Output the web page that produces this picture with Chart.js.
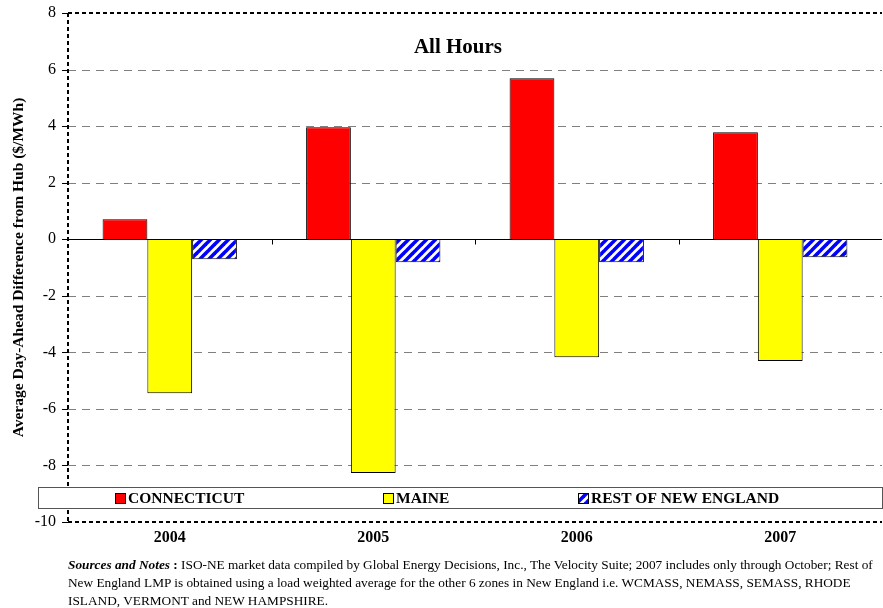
<!DOCTYPE html>
<html><head><meta charset="utf-8">
<script src="https://cdn.jsdelivr.net/npm/chart.js@4"></script>
<style>
html,body{margin:0;padding:0;background:#fff;}
#wrap{position:relative;width:883px;height:608px;}
#note{position:absolute;left:68px;top:556px;width:815px;font-family:"Liberation Serif","Times New Roman",serif;font-size:13.3px;line-height:18px;color:#000;white-space:nowrap;}
</style></head>
<body><div id="wrap"><canvas id="c" width="883" height="608"></canvas>
<div id="note"><b><i>Sources and Notes</i> :</b> ISO-NE market data compiled by Global Energy Decisions, Inc., The Velocity Suite; 2007 includes only through October; Rest of<br>New England LMP is obtained using a load weighted average for the other 6 zones in New England i.e. WCMASS, NEMASS, SEMASS, RHODE<br>ISLAND, VERMONT and NEW HAMPSHIRE.</div></div>
<script>
const categories = ["2004", "2005", "2006", "2007"];
const connecticut = [0.71, 3.96, 5.69, 3.78];
const maine = [-5.45, -8.27, -4.17, -4.31];
const restOfNE = [-0.71, -0.81, -0.81, -0.64];
const seriesNames = ["CONNECTICUT", "MAINE", "REST OF NEW ENGLAND"];
const yTicks = [-10, -8, -6, -4, -2, 0, 2, 4, 6, 8];
const chartTitle = "All Hours";
const yTitle = "Average Day-Ahead Difference from Hub ($/MWh)";

function makePattern(){
  const p = document.createElement('canvas');
  p.width = 9; p.height = 9;
  const g = p.getContext('2d');
  g.fillStyle = '#fff'; g.fillRect(0,0,9,9);
  g.strokeStyle = '#0000ff'; g.lineWidth = 3.6;
  for (let k=-2;k<=2;k++){
    g.beginPath(); g.moveTo(k*9-2, 11); g.lineTo(k*9+11, -2); g.stroke();
  }
  return document.getElementById('c').getContext('2d').createPattern(p,'repeat');
}
const pattern = makePattern();
const colors = ['#ff0000', '#ffff00', pattern];
const serif = '"Liberation Serif","Times New Roman",serif';

const decor = {
  id:'decor',
  beforeDatasetsDraw(chart){
    const ctx = chart.ctx, a = chart.chartArea, y = chart.scales.y;
    ctx.save();
    yTicks.forEach(v=>{
      const py = Math.round(y.getPixelForValue(v))+0.5;
      if (v===0 || v===8 || v===-10) return;
      ctx.strokeStyle='#808080'; ctx.lineWidth=1; ctx.setLineDash([8,6]);
      ctx.beginPath(); ctx.moveTo(a.left, py); ctx.lineTo(a.right, py); ctx.stroke();
    });
    ctx.restore();
  },
  afterDatasetsDraw(chart){
    const ctx = chart.ctx, a = chart.chartArea, y = chart.scales.y;
    ctx.save();
    const z = Math.round(y.getPixelForValue(0))+0.5;
    ctx.strokeStyle='#000'; ctx.lineWidth=1; ctx.setLineDash([]);
    ctx.beginPath(); ctx.moveTo(a.left, z); ctx.lineTo(a.right, z); ctx.stroke();
    const n = categories.length, w = (a.right-a.left)/n;
    for (let i=1;i<n;i++){
      const px = Math.round(a.left + i*w)+0.5;
      ctx.beginPath(); ctx.moveTo(px, z); ctx.lineTo(px, z+5); ctx.stroke();
    }
    ctx.lineWidth=2; ctx.setLineDash([4,3]);
    const t = Math.round(y.getPixelForValue(8)), b = Math.round(y.getPixelForValue(-10));
    ctx.beginPath(); ctx.moveTo(a.left, t); ctx.lineTo(a.right, t); ctx.stroke();
    ctx.beginPath(); ctx.moveTo(a.left, b); ctx.lineTo(a.right, b); ctx.stroke();
    ctx.beginPath(); ctx.moveTo(a.left, t); ctx.lineTo(a.left, b); ctx.stroke();
    ctx.setLineDash([]); ctx.lineWidth=1;
    yTicks.forEach(v=>{
      const py = Math.round(y.getPixelForValue(v))+0.5;
      ctx.beginPath(); ctx.moveTo(a.left-6, py); ctx.lineTo(a.left, py); ctx.stroke();
    });
    ctx.fillStyle='#000'; ctx.font='bold 21px '+serif; ctx.textAlign='center'; ctx.textBaseline='middle';
    ctx.fillText(chartTitle, 458, 48);
    ctx.fillStyle='#fff'; ctx.fillRect(38.5, 487.5, 844, 21);
    ctx.strokeStyle='#555'; ctx.lineWidth=1; ctx.strokeRect(38.5, 487.5, 844, 21);
    const lx = [115, 383, 578];
    ctx.font='bold 15.5px '+serif; ctx.textAlign='left';
    seriesNames.forEach((s,i)=>{
      ctx.fillStyle = colors[i];
      ctx.fillRect(lx[i]+0.5, 493.5, 10, 10);
      ctx.strokeStyle='#000'; ctx.strokeRect(lx[i]+0.5, 493.5, 10, 10);
      ctx.fillStyle='#000';
      ctx.fillText(s, lx[i]+13, 499);
    });
    ctx.restore();
  }
};

new Chart(document.getElementById('c'), {
  type:'bar',
  data:{
    labels:categories,
    datasets:[
      {label:seriesNames[0], data:connecticut, backgroundColor:colors[0], borderColor:'#000', borderWidth:1},
      {label:seriesNames[1], data:maine, backgroundColor:colors[1], borderColor:'#000', borderWidth:1},
      {label:seriesNames[2], data:restOfNE, backgroundColor:colors[2], borderColor:'#000', borderWidth:1}
    ]
  },
  options:{
    responsive:false, animation:false, devicePixelRatio:1,
    layout:{padding:{top:13, right:1, bottom:56, left:0}},
    plugins:{legend:{display:false}, title:{display:false}, tooltip:{enabled:false}},
    datasets:{bar:{categoryPercentage:0.66, barPercentage:1}},
    scales:{
      x:{
        grid:{display:false, drawTicks:false},
        border:{display:false},
        ticks:{color:'#000', font:{family:serif, size:16, weight:'bold'}, padding:6},
        afterFit(s){ s.height = 30; s.paddingLeft = 0; s.paddingRight = 0; }
      },
      y:{
        min:-10, max:8,
        afterBuildTicks(s){ s.ticks = yTicks.map(v=>({value:v})); },
        grid:{display:false, drawTicks:false},
        border:{display:false},
        ticks:{color:'#000', font:{family:serif, size:16}, padding:12},
        title:{display:true, text:yTitle, color:'#000', font:{family:serif, size:15.5, weight:'bold'}, padding:{top:10, bottom:0}},
        afterFit(s){ s.width = 68; s.paddingTop = 0; s.paddingBottom = 0; }
      }
    }
  },
  plugins:[decor]
});
</script></body></html>
